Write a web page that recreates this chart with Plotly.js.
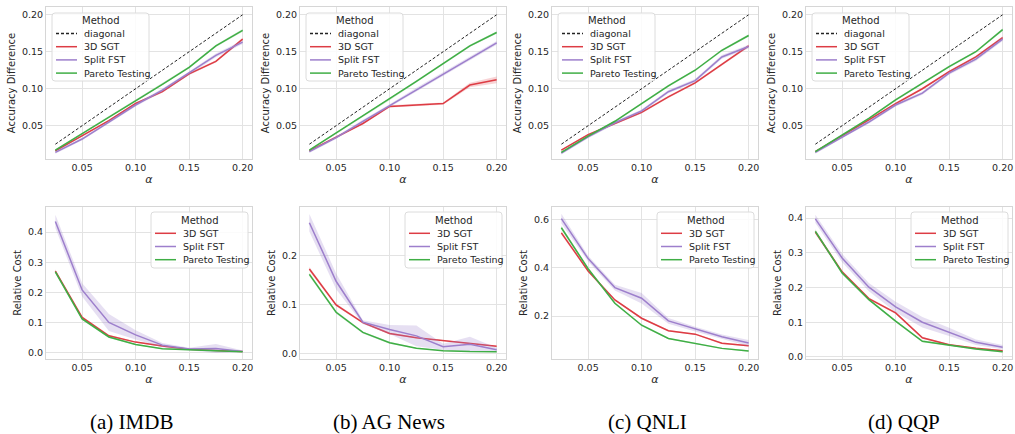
<!DOCTYPE html>
<html>
<head>
<meta charset="utf-8">
<script src="https://cdn.plot.ly/plotly-3.0.1.min.js"></script>
<style>html,body{margin:0;padding:0;background:#fff;}#chart{width:1015px;height:434px;}</style>
</head>
<body>
<div id="chart"></div>
<script>
// ---------- data ----------
const alpha = [0.025, 0.05, 0.075, 0.1, 0.125, 0.15, 0.175, 0.2];
const methods = ['3D SGT', 'Split FST', 'Pareto Testing'];
const diagonalLabel = 'diagonal';
const legendTitle = 'Method';
const captions = ['(a) IMDB', '(b) AG News', '(c) QNLI', '(d) QQP'];
const xTickVals = [0.05, 0.10, 0.15, 0.20];
const accTickVals = [0.05, 0.10, 0.15, 0.20];

// Accuracy difference (top row)
const acc_imdb_sgt    = [0.016, 0.037, 0.057, 0.080, 0.096, 0.120, 0.137, 0.167];
const acc_imdb_fst    = [0.014, 0.032, 0.055, 0.078, 0.098, 0.121, 0.145, 0.163];
const acc_imdb_pareto = [0.017, 0.039, 0.062, 0.084, 0.106, 0.129, 0.158, 0.179];
const acc_ag_sgt      = [0.016, 0.035, 0.053, 0.076, 0.078, 0.080, 0.105, 0.112];
const acc_ag_fst      = [0.015, 0.034, 0.056, 0.077, 0.099, 0.120, 0.141, 0.162];
const acc_ag_pareto   = [0.017, 0.040, 0.063, 0.086, 0.110, 0.134, 0.158, 0.176];
const acc_qnli_sgt    = [0.017, 0.038, 0.053, 0.068, 0.089, 0.108, 0.133, 0.158];
const acc_qnli_fst    = [0.013, 0.035, 0.054, 0.070, 0.096, 0.111, 0.143, 0.157];
const acc_qnli_pareto = [0.014, 0.036, 0.056, 0.080, 0.104, 0.125, 0.152, 0.172];
const acc_qqp_sgt     = [0.015, 0.036, 0.058, 0.080, 0.100, 0.123, 0.143, 0.169];
const acc_qqp_fst     = [0.014, 0.035, 0.055, 0.078, 0.094, 0.121, 0.140, 0.167];
const acc_qqp_pareto  = [0.015, 0.037, 0.060, 0.085, 0.107, 0.130, 0.150, 0.180];

// Accuracy difference band half-widths
const accErr_small    = [0.0012, 0.0012, 0.0012, 0.0015, 0.0015, 0.0015, 0.0015, 0.0018];
const accErr_fst      = [0.0018, 0.0018, 0.0020, 0.0020, 0.0022, 0.0022, 0.0025, 0.0025];
const accErr_ag_sgt   = [0.0012, 0.0012, 0.0015, 0.0015, 0.0015, 0.0015, 0.0030, 0.0045];

// Relative cost (bottom row)
const cost_imdb_sgt    = [0.270, 0.117, 0.056, 0.035, 0.022, 0.011, 0.007, 0.004];
const cost_imdb_fst    = [0.435, 0.208, 0.100, 0.059, 0.025, 0.012, 0.014, 0.004];
const cost_imdb_pareto = [0.268, 0.112, 0.052, 0.027, 0.013, 0.009, 0.005, 0.003];
const cost_ag_sgt      = [0.172, 0.099, 0.063, 0.041, 0.032, 0.026, 0.021, 0.015];
const cost_ag_fst      = [0.266, 0.147, 0.064, 0.049, 0.036, 0.014, 0.019, 0.008];
const cost_ag_pareto   = [0.161, 0.084, 0.043, 0.022, 0.011, 0.006, 0.004, 0.0035];
const cost_qnli_sgt    = [0.545, 0.387, 0.267, 0.191, 0.139, 0.125, 0.087, 0.077];
const cost_qnli_fst    = [0.604, 0.438, 0.318, 0.274, 0.180, 0.146, 0.114, 0.088];
const cost_qnli_pareto = [0.566, 0.396, 0.253, 0.162, 0.107, 0.088, 0.066, 0.055];
const cost_qqp_sgt     = [0.360, 0.245, 0.168, 0.127, 0.055, 0.035, 0.025, 0.018];
const cost_qqp_fst     = [0.398, 0.285, 0.201, 0.144, 0.100, 0.072, 0.042, 0.028];
const cost_qqp_pareto  = [0.362, 0.242, 0.165, 0.103, 0.045, 0.034, 0.023, 0.015];

// Relative cost band half-widths
const costErr_imdb_sgt  = [0.006, 0.004, 0.003, 0.002, 0.002, 0.001, 0.001, 0.001];
const costErr_imdb_fst  = [0.022, 0.022, 0.028, 0.015, 0.007, 0.004, 0.015, 0.003];
const costErr_ag_sgt    = [0.004, 0.003, 0.002, 0.002, 0.001, 0.001, 0.001, 0.001];
const costErr_ag_fst    = [0.018, 0.016, 0.004, 0.009, 0.021, 0.006, 0.015, 0.004];
const costErr_qnli_sgt  = [0.008, 0.005, 0.004, 0.004, 0.003, 0.003, 0.003, 0.003];
const costErr_qnli_fst  = [0.020, 0.012, 0.012, 0.022, 0.012, 0.010, 0.010, 0.013];
const costErr_qqp_sgt   = [0.006, 0.004, 0.003, 0.003, 0.003, 0.002, 0.002, 0.002];
const costErr_qqp_fst   = [0.012, 0.012, 0.012, 0.015, 0.015, 0.012, 0.008, 0.006];

// ---------- styling ----------
const W = 1015, H = 434;
const colors = ['#dd3c44', '#9d7fcc', '#3fae45'];
const bandColors = ['rgba(221,60,68,0.22)', 'rgba(157,127,204,0.25)', 'rgba(63,174,69,0.22)'];
const font = 'DejaVu Sans, sans-serif';
const textColor = '#262626';
const colLeft = [46, 300, 552, 806];
const plotW = 206;
const rowTop = [7, 207];
const plotH = 152;

const panels = [
  {row: 0, col: 0, ys: [acc_imdb_sgt, acc_imdb_fst, acc_imdb_pareto], errs: [accErr_small, accErr_fst, accErr_small]},
  {row: 0, col: 1, ys: [acc_ag_sgt, acc_ag_fst, acc_ag_pareto], errs: [accErr_ag_sgt, accErr_fst, accErr_small]},
  {row: 0, col: 2, ys: [acc_qnli_sgt, acc_qnli_fst, acc_qnli_pareto], errs: [accErr_small, accErr_fst, accErr_small]},
  {row: 0, col: 3, ys: [acc_qqp_sgt, acc_qqp_fst, acc_qqp_pareto], errs: [accErr_small, accErr_fst, accErr_small]},
  {row: 1, col: 0, ys: [cost_imdb_sgt, cost_imdb_fst, cost_imdb_pareto], errs: [costErr_imdb_sgt, costErr_imdb_fst, costErr_imdb_sgt],
   range: [-0.021, 0.483], ticks: [0.0, 0.1, 0.2, 0.3, 0.4]},
  {row: 1, col: 1, ys: [cost_ag_sgt, cost_ag_fst, cost_ag_pareto], errs: [costErr_ag_sgt, costErr_ag_fst, costErr_ag_sgt],
   range: [-0.011, 0.298], ticks: [0.0, 0.1, 0.2]},
  {row: 1, col: 2, ys: [cost_qnli_sgt, cost_qnli_fst, cost_qnli_pareto], errs: [costErr_qnli_sgt, costErr_qnli_fst, costErr_qnli_sgt],
   range: [0.022, 0.652], ticks: [0.2, 0.4, 0.6]},
  {row: 1, col: 3, ys: [cost_qqp_sgt, cost_qqp_fst, cost_qqp_pareto], errs: [costErr_qqp_sgt, costErr_qqp_fst, costErr_qqp_sgt],
   range: [-0.006, 0.432], ticks: [0.0, 0.1, 0.2, 0.3, 0.4]}
];

const fx = px => px / W;
const fy = py => 1 - py / H;

const traces = [];
const layout = {
  width: W, height: H,
  margin: {l: 0, r: 0, t: 0, b: 0},
  paper_bgcolor: '#ffffff',
  plot_bgcolor: '#ffffff',
  showlegend: false,
  font: {family: font, color: textColor, size: 9.5},
  shapes: [],
  annotations: []
};

panels.forEach((p, i) => {
  const n = i + 1;
  const xa = 'x' + (n === 1 ? '' : n), ya = 'y' + (n === 1 ? '' : n);
  const xk = 'xaxis' + (n === 1 ? '' : n), yk = 'yaxis' + (n === 1 ? '' : n);
  const L = colLeft[p.col], T = rowTop[p.row];
  layout[xk] = {
    domain: [fx(L), fx(L + plotW)], anchor: ya,
    range: [0.01625, 0.20875], tickvals: xTickVals, tickformat: '.2f',
    showgrid: true, gridcolor: '#e3e3e3', gridwidth: 1, zeroline: false,
    showline: true, mirror: true, linecolor: '#d6d6d6', linewidth: 1,
    ticks: '', tickfont: {size: 9.5, color: textColor, family: font},
    title: {text: '<i>α</i>', font: {size: 11, color: textColor, family: font}, standoff: 2}
  };
  const isTop = p.row === 0;
  layout[yk] = {
    domain: [fy(T + plotH), fy(T)], anchor: xa,
    range: isTop ? [0.005, 0.2105] : p.range,
    tickvals: isTop ? accTickVals : p.ticks,
    tickformat: isTop ? '.2f' : '.1f',
    showgrid: true, gridcolor: '#e3e3e3', gridwidth: 1, zeroline: false,
    showline: true, mirror: true, linecolor: '#d6d6d6', linewidth: 1,
    ticks: '', tickfont: {size: 9.5, color: textColor, family: font},
    title: {text: isTop ? 'Accuracy Difference' : 'Relative Cost', font: {size: 10, color: textColor, family: font}, standoff: 4}
  };

  if (isTop) {
    traces.push({
      x: alpha, y: alpha, xaxis: xa, yaxis: ya, mode: 'lines', name: diagonalLabel,
      line: {color: '#222222', width: 1, dash: '3px,2px'}, hoverinfo: 'skip'
    });
  }
  p.ys.forEach((ys, k) => {
    const e = p.errs[k];
    const up = ys.map((v, j) => v + e[j]);
    const lo = ys.map((v, j) => v - e[j]);
    traces.push({
      x: alpha.concat(alpha.slice().reverse()),
      y: up.concat(lo.slice().reverse()),
      xaxis: xa, yaxis: ya, mode: 'lines', fill: 'toself',
      fillcolor: bandColors[k], line: {width: 0, color: 'rgba(0,0,0,0)'},
      hoverinfo: 'skip', name: methods[k] + ' band'
    });
    traces.push({
      x: alpha, y: ys, xaxis: xa, yaxis: ya, mode: 'lines', name: methods[k],
      line: {color: colors[k], width: 1.5}
    });
  });

  // ----- legend (drawn in pixel space) -----
  const entries = isTop
    ? [{label: diagonalLabel, color: '#222222', dash: '3px,2px'}].concat(methods.map((m, k) => ({label: m, color: colors[k], dash: 'solid'})))
    : methods.map((m, k) => ({label: m, color: colors[k], dash: 'solid'}));
  const bw = 97, bh = isTop ? 68 : 56;
  const bL = isTop ? L + 6 : L + plotW - 4 - bw;
  const bT = isTop ? 13 : 212;
  const r = 3;
  const x0 = bL, x1 = bL + bw, y0 = bT, y1 = bT + bh;
  const P = (x, y) => fx(x) + ',' + fy(y);
  const path = 'M' + P(x0 + r, y0) + ' L' + P(x1 - r, y0) + ' Q' + P(x1, y0) + ' ' + P(x1, y0 + r) +
    ' L' + P(x1, y1 - r) + ' Q' + P(x1, y1) + ' ' + P(x1 - r, y1) +
    ' L' + P(x0 + r, y1) + ' Q' + P(x0, y1) + ' ' + P(x0, y1 - r) +
    ' L' + P(x0, y0 + r) + ' Q' + P(x0, y0) + ' ' + P(x0 + r, y0) + ' Z';
  layout.shapes.push({type: 'path', xref: 'paper', yref: 'paper', path: path,
    fillcolor: 'rgba(255,255,255,0.85)', line: {color: '#dcdcdc', width: 1}, layer: 'above'});
  layout.annotations.push({xref: 'paper', yref: 'paper', x: fx(bL + bw / 2), y: fy(bT + (isTop ? 7.5 : 8.7)),
    text: legendTitle, showarrow: false, xanchor: 'center', yanchor: 'middle',
    font: {size: 10, color: textColor, family: font}});
  const firstY = bT + (isTop ? 20.5 : 21.3), step = 13.2;
  entries.forEach((en, k) => {
    const iy = firstY + k * step;
    layout.shapes.push({type: 'line', xref: 'paper', yref: 'paper',
      x0: fx(bL + 4), x1: fx(bL + 25), y0: fy(iy), y1: fy(iy),
      line: {color: en.color, width: 1.5, dash: en.dash}, layer: 'above'});
    layout.annotations.push({xref: 'paper', yref: 'paper', x: fx(bL + 30), y: fy(iy),
      text: en.label, showarrow: false, xanchor: 'left', yanchor: 'middle',
      font: {size: 9.5, color: textColor, family: font}});
  });
});

// captions
const captionX = [131, 389, 647, 904];
captions.forEach((c, i) => {
  layout.annotations.push({xref: 'paper', yref: 'paper', x: fx(captionX[i]), y: fy(422),
    text: c, showarrow: false, xanchor: 'center', yanchor: 'middle',
    font: {size: 21, color: '#000000', family: 'Liberation Serif, Times New Roman, serif'}});
});

Plotly.newPlot('chart', traces, layout, {displayModeBar: false, staticPlot: true});
</script>
</body>
</html>
